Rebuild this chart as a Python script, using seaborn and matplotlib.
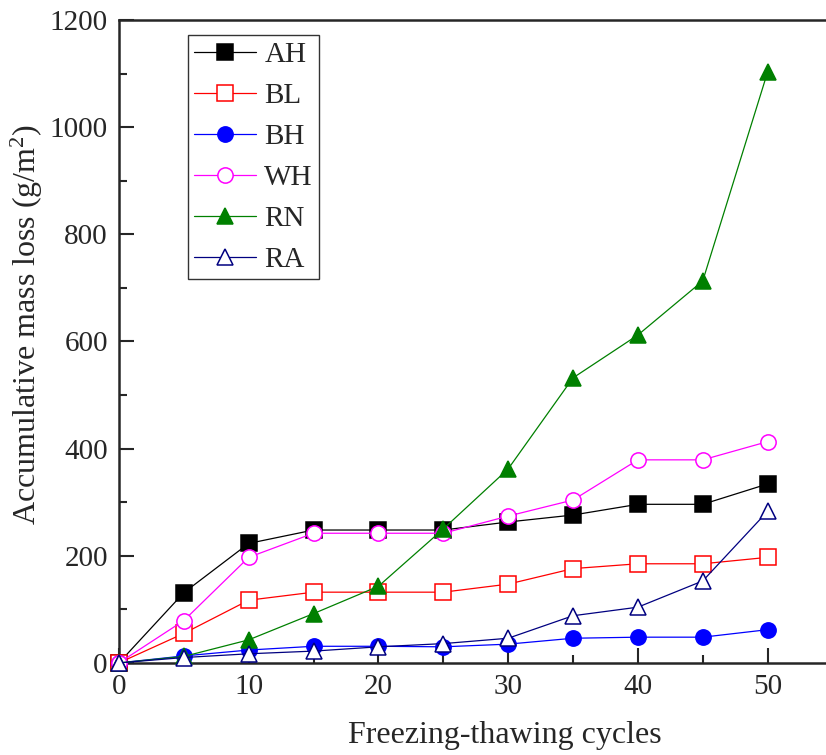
import numpy as np
import pandas as pd
import seaborn as sns
import matplotlib.pyplot as plt
from matplotlib.ticker import MultipleLocator

cycles = [0, 5, 10, 15, 20, 25, 30, 35, 40, 45, 50]
AH = [0, 131, 223, 248, 248, 248, 263, 276, 296, 296, 334]
BL = [0, 55, 117, 132, 132, 132, 147, 176, 185, 185, 197]
BH = [0, 13, 24, 31, 31, 30, 35, 46, 48, 48, 62]
WH = [0, 79, 197, 242, 242, 242, 274, 304, 379, 379, 413]
RN = [0, 12, 43, 92, 143, 250, 362, 532, 612, 713, 1103]
RA = [0, 10, 17, 22, 30, 36, 46, 88, 104, 153, 283]

sns.set_style("ticks")
plt.rcParams['font.family'] = ['Liberation Serif', 'DejaVu Serif']
plt.rcParams['mathtext.fontset'] = 'custom'
plt.rcParams['mathtext.rm'] = 'Liberation Serif'
plt.rcParams['mathtext.it'] = 'Liberation Serif:italic'

fig = plt.figure(figsize=(8.26, 7.55), dpi=100)
ax = fig.add_axes([0.144, 0.122, 0.856, 0.8515])

df = pd.DataFrame({'x': cycles, 'AH': AH, 'BL': BL, 'BH': BH, 'WH': WH, 'RN': RN, 'RA': RA})

# name, colour, marker, filled
styles = [('AH', 'black', 's', True),
          ('BL', 'red', 's', False),
          ('BH', 'blue', 'o', True),
          ('WH', 'magenta', 'o', False),
          ('RN', 'green', '^', True),
          ('RA', 'navy', '^', False)]

for name, c, m, filled in styles:
    sns.lineplot(data=df, x='x', y=name, ax=ax, color=c, marker=m, markersize=11,
                 linewidth=0.9, markeredgecolor=c, markeredgewidth=1.1,
                 markerfacecolor=c if filled else 'white', label=name, clip_on=False,
                 zorder=3)

ax.set_xlim(0, 54.5)
ax.set_ylim(0, 1200)
ax.xaxis.set_major_locator(MultipleLocator(10))
ax.xaxis.set_minor_locator(MultipleLocator(5))
ax.yaxis.set_major_locator(MultipleLocator(200))
ax.yaxis.set_minor_locator(MultipleLocator(100))
ax.tick_params(which='major', direction='in', length=11, width=1.5, labelsize=21, pad=8,
               top=False, right=False)
ax.tick_params(which='minor', direction='in', length=6, width=1.5, top=False, right=False)

for s in ['left', 'bottom', 'top']:
    ax.spines[s].set_linewidth(1.8)
ax.spines['right'].set_visible(False)

ax.set_xlabel('Freezing-thawing cycles', fontsize=23)
ax.set_ylabel('Accumulative mass loss (g/m$^2$)', fontsize=23)
ax.xaxis.set_label_coords(0.546, -0.09)
ax.yaxis.set_label_coords(-0.105, 0.527)

leg = ax.legend(loc='upper left', bbox_to_anchor=(0.0976, 0.9767), fontsize=21, frameon=True,
                fancybox=False, edgecolor='black', handlelength=2.1, borderpad=0.22,
                labelspacing=0.5, handletextpad=0.3, borderaxespad=0)
leg.get_frame().set_linewidth(1.0)

fig.savefig('out.png', dpi=100)
